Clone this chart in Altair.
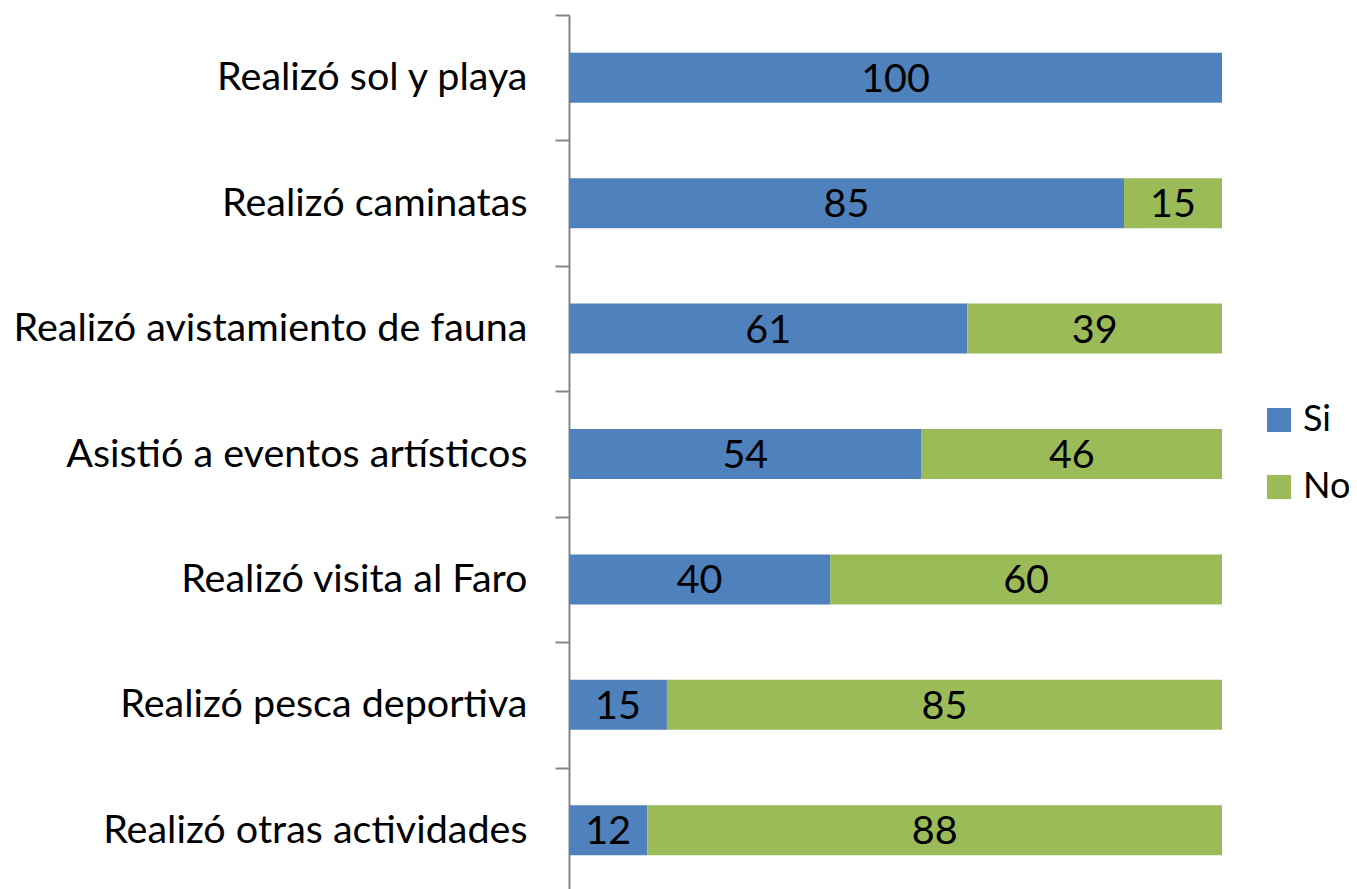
import altair as alt
import pandas as pd

categories = [
    "Realizó sol y playa",
    "Realizó caminatas",
    "Realizó avistamiento de fauna",
    "Asistió a eventos artísticos",
    "Realizó visita al Faro",
    "Realizó pesca deportiva",
    "Realizó otras actividades",
]
si_values = [100, 85, 61, 54, 40, 15, 12]
no_values = [0, 15, 39, 46, 60, 85, 88]
series = ["Si", "No"]
colors = ["#4F81BD", "#9BBB59"]

rows = []
for c, s, n in zip(categories, si_values, no_values):
    rows.append({"cat": c, "serie": "Si", "order": 0, "value": s})
    rows.append({"cat": c, "serie": "No", "order": 1, "value": n})
df = pd.DataFrame(rows)

FONT = "Lato"
FS = 39.5

base = alt.Chart(df).transform_stack(
    stack="value", groupby=["cat"], as_=["x0", "x1"],
    sort=[alt.SortField("order", order="ascending")]
).transform_calculate(mid="(datum.x0 + datum.x1) / 2")

y_enc = alt.Y(
    "cat:N", sort=categories, title=None,
    scale=alt.Scale(paddingInner=0, paddingOuter=0),
    axis=alt.Axis(
        tickBand="extent", tickSize=14, tickColor="#868686", tickWidth=2,
        domainColor="#868686", domainWidth=2, labelFont=FONT, labelFontSize=FS,
        labelColor="#000000", labelPadding=28, labelLimit=0, grid=False,
    ),
)
x_scale = alt.Scale(domain=[0, 100], nice=False, zero=True)

bars = base.mark_bar(size=50).encode(
    y=y_enc,
    x=alt.X("x0:Q", scale=x_scale, axis=None),
    x2="x1:Q",
    color=alt.Color(
        "serie:N",
        scale=alt.Scale(domain=series, range=colors),
        sort=series,
        legend=alt.Legend(
            title=None, orient="none", legendX=692, legendY=387,
            symbolType="square", symbolSize=576, symbolStrokeWidth=0,
            labelFont=FONT, labelFontSize=36, labelColor="#000000",
            labelOffset=6, rowPadding=31, padding=0,
        ),
    ),
)

labels = base.transform_filter("datum.value > 0").mark_text(
    font=FONT, fontSize=FS, color="#000000", baseline="middle", align="center", dy=2
).encode(
    y=alt.Y("cat:N", sort=categories),
    x=alt.X("mid:Q", scale=x_scale),
    text=alt.Text("value:Q"),
)

chart = alt.layer(bars, labels).properties(
    width=653, height=878,
    background="#FFFFFF",
    autosize=alt.AutoSizeParams(type="none"),
    padding={"left": 561, "top": 7, "right": 127, "bottom": 0},
).configure_view(strokeWidth=0, stroke="transparent")

chart.save("out.html", embed_options={"renderer": "svg", "actions": False})
